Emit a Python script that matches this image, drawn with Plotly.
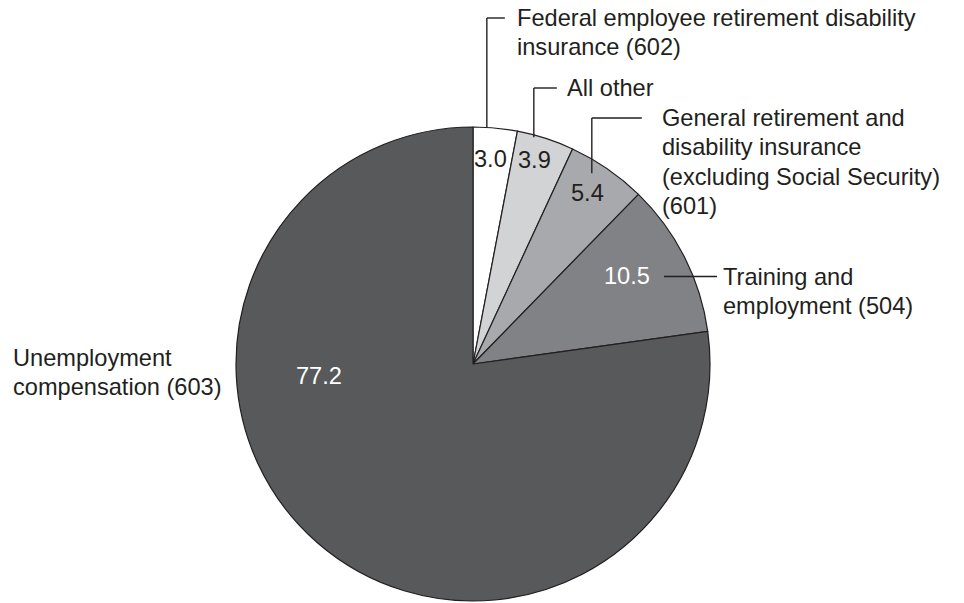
import math
import plotly.graph_objects as go

# ---- data ----
categories = [
    "Federal employee retirement disability insurance (602)",
    "All other",
    "General retirement and disability insurance (excluding Social Security) (601)",
    "Training and employment (504)",
    "Unemployment compensation (603)",
]
values = [3.0, 3.9, 5.4, 10.5, 77.2]
value_labels = ["3.0", "3.9", "5.4", "10.5", "77.2"]
callout_lines = [
    ["Federal employee retirement disability", "insurance (602)"],
    ["All other"],
    ["General retirement and", "disability insurance", "(excluding Social Security)", "(601)"],
    ["Training and", "employment (504)"],
    ["Unemployment", "compensation (603)"],
]

# ---- style / layout ----
W, H = 964, 603
slice_colors = ["#ffffff", "#d1d3d4", "#a7a9ac", "#808285", "#58595b"]
value_colors = ["#231f20", "#231f20", "#231f20", "#ffffff", "#ffffff"]
ink = "#231f20"
FONT = "Liberation Sans, Arial, sans-serif"
FS = 23.6
LINE_H = 29.3

CX, CY, R = 473, 364, 237  # pie centre / radius in pixels


def px(x):
    return x / W


def py(y):
    return 1 - y / H


fig = go.Figure()
fig.add_trace(go.Pie(
    labels=categories,
    values=values,
    sort=False,
    direction="clockwise",
    rotation=0,
    textinfo="none",
    hoverinfo="label+value",
    marker=dict(colors=slice_colors, line=dict(color=ink, width=1.2)),
    domain=dict(x=[px(CX - R), px(CX + R)], y=[py(CY + R), py(CY - R)]),
    showlegend=False,
))

# slice angles (degrees clockwise from 12 o'clock)
total = sum(values)
starts, ends = [], []
acc = 0.0
for v in values:
    starts.append(acc / total * 360)
    acc += v
    ends.append(acc / total * 360)


def polar(angle_deg, rfrac):
    a = math.radians(angle_deg)
    return CX + R * rfrac * math.sin(a), CY - R * rfrac * math.cos(a)


annotations = []
shapes = []


def add_block(lines, x_left, y_first):
    for k, line in enumerate(lines):
        annotations.append(dict(
            x=px(x_left), y=py(y_first + k * LINE_H), xref="paper", yref="paper",
            text=line, showarrow=False, align="left",
            xanchor="left", yanchor="middle",
            font=dict(family=FONT, size=FS, color=ink),
        ))


# value labels inside slices (fraction across slice, radius fraction)
val_pos = [(0.44, 0.87), (0.43, 0.90), (0.46, 0.87), (0.42, 0.75), (0.66, 0.65)]
for i, (f, rf) in enumerate(val_pos):
    ang = starts[i] + f * (ends[i] - starts[i])
    x, y = polar(ang, rf)
    annotations.append(dict(
        x=px(x), y=py(y), xref="paper", yref="paper",
        text=value_labels[i], showarrow=False,
        xanchor="center", yanchor="middle",
        font=dict(family=FONT, size=FS, color=value_colors[i]),
    ))

# callouts with elbow leader lines for the three small top slices
elbows = [
    (0, 0.31, 1.00, 18, 18, 30),
    (1, 0.29, 0.99, 88, 23, 33),
    (2, 0.27, 0.93, 118, 50, 70),
]
for i, f, rf, ly, hlen, gap in elbows:
    ang = starts[i] + f * (ends[i] - starts[i])
    ax = CX + R * math.sin(math.radians(ang))
    ey = CY - math.sqrt(max(R * R - (ax - CX) ** 2, 0)) * rf
    shapes.append(dict(type="line", xref="paper", yref="paper",
                       x0=px(ax), y0=py(ey), x1=px(ax), y1=py(ly),
                       line=dict(color=ink, width=1.4)))
    shapes.append(dict(type="line", xref="paper", yref="paper",
                       x0=px(ax), y0=py(ly), x1=px(ax + hlen), y1=py(ly),
                       line=dict(color=ink, width=1.4)))
    add_block(callout_lines[i], ax + gap - 2, ly)

# Training and employment: straight leader
ang = starts[3] + 0.42 * (ends[3] - starts[3])
_, ty = polar(ang, 0.75)
shapes.append(dict(type="line", xref="paper", yref="paper",
                   x0=px(664), y0=py(ty + 1), x1=px(717), y1=py(ty + 1),
                   line=dict(color=ink, width=1.4)))
add_block(callout_lines[3], 721, ty + 1)

# Unemployment compensation (no leader)
add_block(callout_lines[4], 11, 358)

fig.update_layout(
    width=W, height=H,
    margin=dict(l=0, r=0, t=0, b=0),
    paper_bgcolor="#ffffff",
    plot_bgcolor="#ffffff",
    annotations=annotations,
    shapes=shapes,
)

fig.write_html(
    "out.html",
    config={"displayModeBar": False},
    post_script="document.body.style.margin='0';document.body.style.overflow='hidden';",
)
